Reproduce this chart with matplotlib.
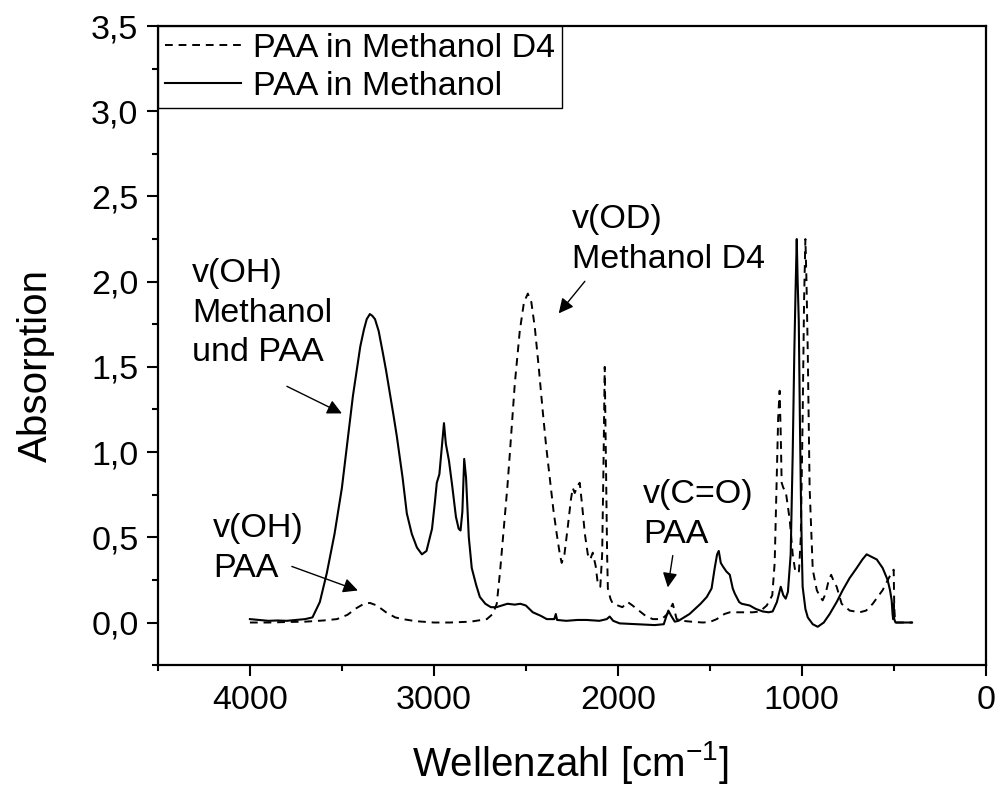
import matplotlib
matplotlib.use("Agg")
import matplotlib.pyplot as plt
from matplotlib.ticker import MultipleLocator, FuncFormatter

plt.rcParams['font.family'] = ['Liberation Sans', 'DejaVu Sans']
plt.rcParams['mathtext.default'] = 'regular'

# PAA in Methanol D4 (dashed)
wn_d4 = [4000, 3900, 3800, 3700, 3600, 3527, 3470, 3420, 3380, 3348, 3310, 3260, 3210, 3169, 3100,
         3000, 2913, 2800, 2712, 2680, 2658, 2640, 2620, 2600, 2587, 2560, 2533, 2510, 2489, 2470,
         2451, 2430, 2408, 2390, 2370, 2350, 2332, 2315, 2305, 2290, 2272, 2255, 2245, 2234, 2220,
         2207, 2195, 2179, 2163, 2150, 2136, 2120, 2109, 2095, 2085, 2078, 2071, 2064, 2058, 2054,
         2040, 2027, 2000, 1975, 1946, 1920, 1897, 1850, 1810, 1761, 1730, 1701, 1680, 1650, 1600,
         1538, 1500, 1462, 1420, 1391, 1300, 1266, 1227, 1190, 1160, 1147, 1137, 1128, 1120, 1114,
         1109, 1100, 1087, 1075, 1065, 1049, 1035, 1027, 1015, 1005, 995, 987, 980, 974, 967,
         957, 940, 918, 900, 886, 870, 855, 840, 825, 810, 783, 739, 685, 650, 614,
         560, 522, 505, 500, 497, 493, 488, 400]
abs_d4 = [0.0, 0.0, 0.003, 0.005, 0.012, 0.02, 0.045, 0.085, 0.11, 0.115, 0.1, 0.06, 0.03, 0.02, 0.008,
          0.0, 0.0, 0.005, 0.02, 0.05, 0.11, 0.3, 0.55, 0.8, 0.99, 1.4, 1.71, 1.88, 1.93, 1.88,
          1.73, 1.5, 1.24, 1.04, 0.85, 0.66, 0.52, 0.4, 0.35, 0.4, 0.56, 0.72, 0.79, 0.76, 0.8,
          0.82, 0.7, 0.52, 0.4, 0.37, 0.41, 0.33, 0.23, 0.21, 0.4, 0.9, 1.5, 0.9, 0.4, 0.2,
          0.14, 0.11, 0.1, 0.09, 0.12, 0.1, 0.08, 0.04, 0.02, 0.02, 0.05, 0.11, 0.02, 0.01, 0.005,
          0.0, 0.003, 0.02, 0.05, 0.06, 0.06, 0.06, 0.065, 0.1, 0.16, 0.35, 0.8, 1.2, 1.36, 1.1,
          0.82, 0.79, 0.77, 0.68, 0.6, 0.4, 0.3, 0.29, 0.3, 0.5, 1.2, 1.9, 2.25, 2.0, 1.58,
          0.79, 0.31, 0.19, 0.15, 0.13, 0.17, 0.24, 0.28, 0.24, 0.21, 0.11, 0.07, 0.06, 0.07, 0.11,
          0.19, 0.27, 0.3, 0.31, 0.1, 0.01, 0.0, 0.0]

# PAA in Methanol (solid)
wn_meoh = [4000, 3950, 3900, 3850, 3800, 3750, 3700, 3660, 3620, 3582, 3540, 3500, 3460, 3440, 3419,
           3400, 3380, 3365, 3348, 3335, 3320, 3300, 3277, 3260, 3240, 3220, 3201, 3170, 3147, 3120,
           3092, 3065, 3040, 3010, 2995, 2984, 2970, 2955, 2945, 2935, 2918, 2900, 2880, 2865, 2855,
           2845, 2835, 2825, 2810, 2794, 2770, 2750, 2720, 2690, 2660, 2630, 2600, 2560, 2530, 2500,
           2462, 2420, 2386, 2345, 2337, 2330, 2280, 2220, 2169, 2100, 2060, 2044, 2025, 1990, 1900,
           1800, 1750, 1735, 1725, 1710, 1690, 1670, 1640, 1610, 1580, 1550, 1516, 1490, 1473, 1460,
           1451, 1440, 1429, 1410, 1391, 1375, 1364, 1340, 1326, 1283, 1250, 1212, 1180, 1158, 1135,
           1114, 1100, 1087, 1075, 1060, 1049, 1040, 1033, 1027, 1022, 1016, 1010, 1005, 1000, 995,
           980, 967, 940, 913, 880, 848, 810, 777, 740, 701, 670, 647, 620, 592, 560,
           533, 520, 511, 506, 503, 500, 497, 490, 400]
abs_meoh = [0.02, 0.015, 0.01, 0.012, 0.01, 0.015, 0.02, 0.03, 0.12, 0.29, 0.52, 0.79, 1.15, 1.33, 1.48,
            1.62, 1.72, 1.78, 1.81, 1.80, 1.78, 1.71, 1.58, 1.48, 1.35, 1.22, 1.09, 0.85, 0.64, 0.52,
            0.44, 0.40, 0.42, 0.55, 0.70, 0.82, 0.87, 1.05, 1.17, 1.05, 0.95, 0.80, 0.62, 0.55, 0.54,
            0.65, 0.96, 0.85, 0.50, 0.32, 0.22, 0.15, 0.11, 0.09, 0.09, 0.10, 0.11, 0.105, 0.11, 0.10,
            0.06, 0.04, 0.02, 0.02, 0.05, 0.015, 0.01, 0.015, 0.015, 0.01, 0.02, 0.035, 0.01, -0.005, -0.01,
            -0.015, -0.01, 0.04, 0.07, 0.04, 0.005, 0.01, 0.03, 0.05, 0.08, 0.11, 0.15, 0.20, 0.32, 0.40,
            0.42, 0.35, 0.33, 0.30, 0.28, 0.20, 0.17, 0.12, 0.11, 0.10, 0.08, 0.065, 0.06, 0.065, 0.12,
            0.21, 0.16, 0.14, 0.18, 0.40, 0.99, 1.6, 1.97, 2.25, 2.0, 1.77, 1.2, 0.79, 0.45, 0.21,
            0.08, 0.03, -0.01, -0.025, 0.0, 0.05, 0.12, 0.19, 0.26, 0.32, 0.37, 0.40, 0.385, 0.37, 0.32,
            0.25, 0.19, 0.13, 0.05, 0.02, 0.11, 0.02, 0.0, 0.0]

labels = ['PAA in Methanol D4', 'PAA in Methanol']

fig = plt.figure(figsize=(9.96, 7.89), dpi=100)
ax = fig.add_axes([0.1586, 0.157, 0.831, 0.81])

ax.plot(wn_d4, abs_d4, color='black', lw=1.4, linestyle=(0, (4, 3)), label=labels[0])
ax.plot(wn_meoh, abs_meoh, color='black', lw=1.5, label=labels[1])

ax.set_xlim(4500, 0)
ax.set_ylim(-0.25, 3.5)
ax.xaxis.set_major_locator(MultipleLocator(1000))
ax.xaxis.set_minor_locator(MultipleLocator(500))
ax.yaxis.set_major_locator(MultipleLocator(0.5))
ax.yaxis.set_minor_locator(MultipleLocator(0.25))
ax.yaxis.set_major_formatter(FuncFormatter(lambda v, p: ('%.1f' % v).replace('.', ',')))

for s in ax.spines.values():
    s.set_linewidth(1.6)
ax.tick_params(which='major', direction='out', length=8, width=1.5, labelsize=24.5, pad=6)
ax.tick_params(which='minor', direction='out', length=4.5, width=1.5)

fig.text(36 / 996, 1 - 366 / 789, 'Absorption', rotation=90, ha='center', va='center', fontsize=29)
fig.text(570 / 996, 1 - 762 / 789, 'Wellenzahl [cm$^{-1}$]', ha='center', va='center', fontsize=29)

leg = ax.legend(loc='upper left', fontsize=24.5, frameon=True, fancybox=False, framealpha=1,
                edgecolor='black', borderaxespad=0, borderpad=0.2, labelspacing=0.2,
                handlelength=2.25, handletextpad=0.35)
leg.get_frame().set_linewidth(1.0)

# annotations
arrow = dict(arrowstyle='-|>', color='black', lw=1.0, mutation_scale=22, shrinkA=0, shrinkB=0)
txt = dict(fontsize=24.5, ha='left', va='top', linespacing=1.35)
ax.text(4315, 2.137, 'v(OH)\nMethanol\nund PAA', **txt)
ax.annotate('', xy=(3500, 1.227), xytext=(3799, 1.386), arrowprops=arrow)
ax.text(4201, 0.64, 'v(OH)\nPAA', **txt)
ax.annotate('', xy=(3413, 0.188), xytext=(3772, 0.329), arrowprops=arrow)
ax.text(2250, 2.455, 'v(OD)\nMethanol D4', **txt)
ax.annotate('', xy=(2321, 1.814), xytext=(2179, 2.002), arrowprops=arrow)
ax.text(1864, 0.84, 'v(C=O)\nPAA', **txt)
ax.annotate('', xy=(1728, 0.206), xytext=(1701, 0.393), arrowprops=arrow)

fig.savefig('out.png', dpi=100)
